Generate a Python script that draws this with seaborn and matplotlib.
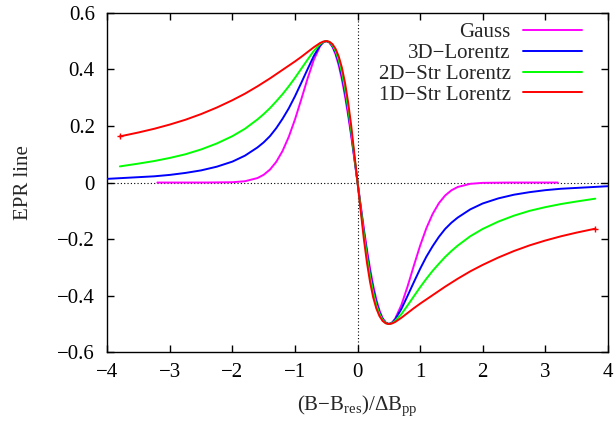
import matplotlib
matplotlib.use("Agg")
import matplotlib.pyplot as plt
import seaborn as sns
import pandas as pd

# ---- data ----
gauss_x = [-3.2, -2.8, -2.4, -2.0, -1.8, -1.6, -1.5, -1.4, -1.3, -1.2, -1.1, -1.0, -0.9, -0.8, -0.7, -0.6, -0.55, -0.5, -0.45, -0.4, -0.35, -0.3, -0.25, -0.2, -0.15, -0.1,
           0.0,
           0.1, 0.15, 0.2, 0.25, 0.3, 0.35, 0.4, 0.45, 0.5, 0.55, 0.6, 0.7, 0.8, 0.9, 1.0, 1.1, 1.2, 1.3, 1.4, 1.5, 1.6, 1.8, 2.0, 2.4, 2.8, 3.2]
gauss_y = [0.0, 0.0, 0.0001, 0.0011, 0.0046, 0.0158, 0.0275, 0.0458, 0.0730, 0.1111, 0.1613, 0.2231, 0.2937, 0.3667, 0.4331, 0.4815, 0.4952, 0.5, 0.4949, 0.4789, 0.4517, 0.4131, 0.3637, 0.3044, 0.2364, 0.1616,
           0.0,
           -0.1616, -0.2364, -0.3044, -0.3637, -0.4131, -0.4517, -0.4789, -0.4949, -0.5, -0.4952, -0.4815, -0.4331, -0.3667, -0.2937, -0.2231, -0.1613, -0.1111, -0.0730, -0.0458, -0.0275, -0.0158, -0.0046, -0.0011, -0.0001, 0.0, 0.0]

lor3d_x = [-4.0, -3.75, -3.5, -3.25, -3.0, -2.75, -2.5, -2.25, -2.0, -1.8, -1.6, -1.5, -1.4, -1.3, -1.2, -1.1, -1.0, -0.9, -0.8, -0.7, -0.6, -0.55, -0.5, -0.45, -0.4, -0.35, -0.3, -0.25, -0.2, -0.15, -0.1,
           0.0,
           0.1, 0.15, 0.2, 0.25, 0.3, 0.35, 0.4, 0.45, 0.5, 0.55, 0.6, 0.7, 0.8, 0.9, 1.0, 1.1, 1.2, 1.3, 1.4, 1.5, 1.6, 1.8, 2.0, 2.25, 2.5, 2.75, 3.0, 3.25, 3.5, 3.75, 4.0]
lor3d_y = [0.013, 0.016, 0.019, 0.022, 0.027, 0.034, 0.043, 0.056, 0.074, 0.095, 0.124, 0.142, 0.164, 0.192, 0.225, 0.262, 0.305, 0.352, 0.400, 0.447, 0.484, 0.496, 0.5, 0.495, 0.482, 0.458, 0.423, 0.376, 0.318, 0.249, 0.172,
           0.0,
           -0.172, -0.249, -0.318, -0.376, -0.423, -0.458, -0.482, -0.495, -0.5, -0.496, -0.484, -0.447, -0.400, -0.352, -0.305, -0.262, -0.225, -0.192, -0.164, -0.142, -0.124, -0.095, -0.074, -0.056, -0.043, -0.034, -0.027, -0.022, -0.019, -0.016, -0.013]

str2d_x = [-3.8, -3.5, -3.25, -3.0, -2.75, -2.5, -2.25, -2.0, -1.8, -1.6, -1.5, -1.4, -1.3, -1.2, -1.1, -1.0, -0.9, -0.8, -0.7, -0.6, -0.55, -0.5, -0.45, -0.4, -0.35, -0.3, -0.25, -0.2, -0.15, -0.1,
           0.0,
           0.1, 0.15, 0.2, 0.25, 0.3, 0.35, 0.4, 0.45, 0.5, 0.55, 0.6, 0.7, 0.8, 0.9, 1.0, 1.1, 1.2, 1.3, 1.4, 1.5, 1.6, 1.8, 2.0, 2.25, 2.5, 2.75, 3.0, 3.25, 3.5, 3.8]
str2d_y = [0.057, 0.067, 0.076, 0.087, 0.100, 0.117, 0.138, 0.164, 0.190, 0.223, 0.242, 0.263, 0.287, 0.312, 0.340, 0.370, 0.402, 0.434, 0.465, 0.489, 0.497, 0.5, 0.4965, 0.485, 0.464, 0.432, 0.388, 0.331, 0.261, 0.181,
           0.0,
           -0.181, -0.261, -0.331, -0.388, -0.432, -0.464, -0.485, -0.4965, -0.5, -0.497, -0.489, -0.465, -0.434, -0.402, -0.370, -0.340, -0.312, -0.287, -0.263, -0.242, -0.223, -0.190, -0.164, -0.138, -0.117, -0.100, -0.087, -0.076, -0.067, -0.057]

str1d_x = [-3.8, -3.5, -3.25, -3.0, -2.75, -2.5, -2.25, -2.0, -1.8, -1.6, -1.5, -1.4, -1.3, -1.2, -1.1, -1.0, -0.9, -0.8, -0.7, -0.6, -0.55, -0.5, -0.45, -0.4, -0.35, -0.3, -0.25, -0.2, -0.15, -0.1,
           0.0,
           0.1, 0.15, 0.2, 0.25, 0.3, 0.35, 0.4, 0.45, 0.5, 0.55, 0.6, 0.7, 0.8, 0.9, 1.0, 1.1, 1.2, 1.3, 1.4, 1.5, 1.6, 1.8, 2.0, 2.25, 2.5, 2.75, 3.0, 3.25, 3.5, 3.8]
str1d_y = [0.163, 0.177, 0.190, 0.205, 0.222, 0.242, 0.265, 0.291, 0.314, 0.340, 0.354, 0.368, 0.383, 0.398, 0.413, 0.428, 0.444, 0.461, 0.478, 0.493, 0.498, 0.5, 0.4975, 0.489, 0.472, 0.445, 0.406, 0.352, 0.283, 0.1985,
           0.0,
           -0.1985, -0.283, -0.352, -0.406, -0.445, -0.472, -0.489, -0.4975, -0.5, -0.498, -0.493, -0.478, -0.461, -0.444, -0.428, -0.413, -0.398, -0.383, -0.368, -0.354, -0.340, -0.314, -0.291, -0.265, -0.242, -0.222, -0.205, -0.190, -0.177, -0.163]

series_names = ["Gauss", "3D\u2212Lorentz", "2D\u2212Str Lorentz", "1D\u2212Str Lorentz"]
series_colors = ["#ff00ff", "#0000ff", "#00ff00", "#ff0000"]

x_ticks = [-4, -3, -2, -1, 0, 1, 2, 3, 4]
x_tick_labels = ["\u22124", "\u22123", "\u22122", "\u22121", "0", "1", "2", "3", "4"]
y_ticks = [-0.6, -0.4, -0.2, 0.0, 0.2, 0.4, 0.6]
y_tick_labels = ["\u22120.6", "\u22120.4", "\u22120.2", "0", "0.2", "0.4", "0.6"]

# ---- style ----
sns.set_style("ticks")
plt.rcParams["font.family"] = ["Liberation Serif", "DejaVu Serif"]
plt.rcParams["mathtext.fontset"] = "custom"
plt.rcParams["mathtext.rm"] = "Liberation Serif"
plt.rcParams["mathtext.it"] = "Liberation Serif:italic"
plt.rcParams["font.size"] = 15

fig = plt.figure(figsize=(6.16, 4.25), dpi=100)
ax = fig.add_axes([0.1742, 0.171, 0.8125, 0.799])

ax.axhline(0, color="black", lw=0.8, ls=(0, (1, 2)), zorder=1)
ax.axvline(0, color="black", lw=0.8, ls=(0, (1, 2)), zorder=1)

all_x = [gauss_x, lor3d_x, str2d_x, str1d_x]
all_y = [gauss_y, lor3d_y, str2d_y, str1d_y]
for xs, ys, name, col in zip(all_x, all_y, series_names, series_colors):
    df = pd.DataFrame({"x": xs, "y": ys})
    sns.lineplot(data=df, x="x", y="y", color=col, lw=1.4, label=name, ax=ax, zorder=3)

ends = pd.DataFrame({"x": [str1d_x[0], str1d_x[-1]], "y": [str1d_y[0], str1d_y[-1]]})
sns.scatterplot(data=ends, x="x", y="y", color="#ff0000", marker="+", s=18, linewidth=1.0, ax=ax, zorder=4)

ax.set_xlim(-4, 4)
ax.set_ylim(-0.6, 0.6)
ax.set_xticks(x_ticks, labels=x_tick_labels)
ax.set_yticks(y_ticks, labels=y_tick_labels)
ax.tick_params(direction="in", length=5, width=1.0, top=True, right=True,
               labelsize=15, colors="black")
ax.tick_params(axis="y", pad=9)
ax.tick_params(axis="x", pad=8)
for s in ax.spines.values():
    s.set_linewidth(1.0)
    s.set_color("black")

ax.set_xlabel("(B\u2212B$_{\\rm res}$)/\u0394B$_{\\rm pp}$", fontsize=15, labelpad=8)
ax.set_ylabel("EPR line", fontsize=15, labelpad=17)

leg = ax.legend(loc="upper right", bbox_to_anchor=(0.948, 0.971), frameon=False,
                markerfirst=False, handlelength=2.8, handletextpad=0.62,
                labelspacing=0.06, borderpad=0, borderaxespad=0, fontsize=15)

fig.savefig("out.png", dpi=100)
